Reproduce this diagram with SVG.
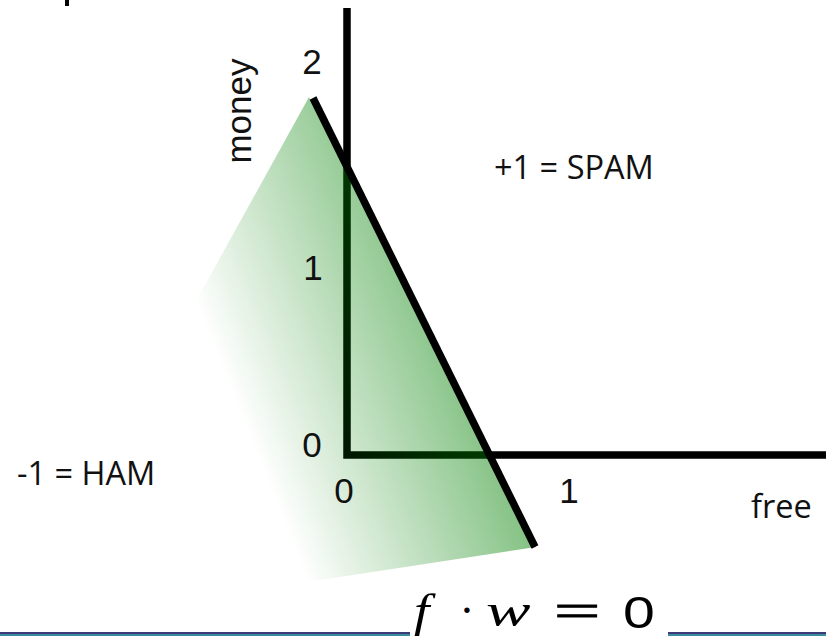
<svg xmlns="http://www.w3.org/2000/svg" width="826" height="636" viewBox="0 0 826 636">
  <defs>
    <linearGradient id="fade" gradientUnits="userSpaceOnUse" x1="195" y1="303" x2="402" y2="220">
      <stop offset="0" stop-color="#008000" stop-opacity="0"/>
      <stop offset="1" stop-color="#008000" stop-opacity="0.48"/>
    </linearGradient>
    <style>
      .num { font-family: "Liberation Sans", Arial, sans-serif; font-size: 35px; fill: #111; }
      .lbl { font-family: "Open Sans", "Noto Sans", sans-serif; font-size: 32.5px; fill: #111; }
      .math { font-family: "Liberation Serif", "Times New Roman", serif; font-size: 46px; fill: #000; }
      .it { font-style: italic; }
      .ax { fill: none; stroke: #000; stroke-width: 7.5; }
    </style>
  </defs>
  <rect width="826" height="636" fill="#fff"/>
  <rect x="65" y="0" width="4" height="6" fill="#000"/>

  <g id="axes">
    <path class="ax" d="M347 8 V455 H826" stroke-linejoin="miter"/>
  </g>

  <g id="ham-region">
    <polygon points="309,97 536,547 307,582 195,303" fill="url(#fade)"/>
  </g>

  <g id="connectors">
    <line id="boundary" class="ax" x1="313" y1="98" x2="535" y2="547"/>
  </g>

  <g id="labels">
    <text class="num" transform="translate(251,111) rotate(-90)" text-anchor="middle" font-size="33">money</text>
    <text class="num" x="312" y="74" text-anchor="middle">2</text>
    <text class="num" x="313" y="280" text-anchor="middle">1</text>
    <text class="num" x="312" y="457" text-anchor="middle">0</text>
    <text class="num" x="344" y="503" text-anchor="middle">0</text>
    <text class="num" x="569" y="503" text-anchor="middle">1</text>
    <text id="spam" class="lbl" x="494" y="179">+1 = SPAM</text>
    <text id="ham" class="lbl" x="17" y="485">-1 = HAM</text>
    <text id="free" class="lbl" x="751" y="518">free</text>
  </g>

  <g id="formula">
    <text class="math it" transform="translate(414,626) scale(1.2,1)" font-size="48">f</text>
    <text class="math" x="467" y="626" text-anchor="middle">·</text>
    <text class="math it" transform="translate(486,626) scale(1.45,1)">w</text>
    <text class="math" transform="translate(577,626) scale(1.8,1)" text-anchor="middle" stroke="#000" stroke-width="0.8">=</text>
    <text transform="translate(639,628) scale(1.3,1)" text-anchor="middle" font-family="'Liberation Sans', Arial, sans-serif" font-size="44" fill="#000">0</text>
  </g>

  <g id="footer-line">
    <rect x="0" y="632" width="410" height="2" fill="#3d3a78"/>
    <rect x="0" y="634" width="410" height="2" fill="#3a8aa0"/>
    <rect x="668" y="632" width="158" height="2" fill="#3d3a78"/>
    <rect x="668" y="634" width="158" height="2" fill="#3a8aa0"/>
  </g>
</svg>
